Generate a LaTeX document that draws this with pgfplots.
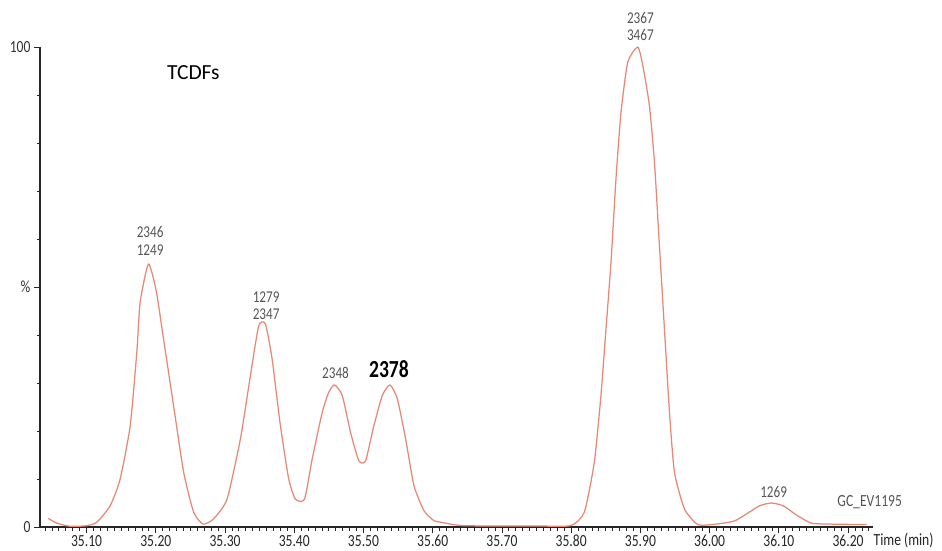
\documentclass[border=0pt]{standalone}
\usepackage{pgfplots}
\pgfplotsset{compat=1.18}
\usepackage{fontspec}
\setmainfont{Carlito}
\newfontfamily\cond[FakeStretch=0.8]{Carlito}
\definecolor{trace}{RGB}{232,136,116}
\definecolor{lab}{RGB}{85,85,85}
\begin{document}
\begin{tikzpicture}
\path[use as bounding box] (-40pt,-24pt) rectangle (902pt,527pt);
\begin{axis}[
  at={(0pt,0pt)}, anchor=south west,
  scale only axis, width=833pt, height=480pt,
  xmin=35.0327, xmax=36.236, ymin=0, ymax=100,
  axis x line*=bottom, axis y line*=left,
  axis line style={line width=1.6pt, black!85},
  clip=false,
  xtick={35.1,35.2,...,36.21},
  minor xtick={35.04,35.05,...,36.235},
  ytick={0,50,100}, yticklabels={0,\%,100},
  minor ytick={10,20,30,40,60,70,80,90},
  tick style={line width=0.8pt, black!85},
  tick align=outside,
  major tick length=6pt, minor tick length=3.5pt,
  /pgf/number format/assume math mode=true,
  xticklabel style={font=\cond\fontsize{17}{19}\selectfont, text=black!85, yshift=1.5pt,
    /pgf/number format/.cd, fixed, fixed zerofill, precision=2, 1000 sep={}},
  yticklabel style={font=\cond\fontsize{17}{19}\selectfont, text=black!80},
]
\addplot[color=trace, line width=1.25pt, line join=round, smooth, tension=0.35] coordinates {
(35.0447,1.8) (35.0569,0.8) (35.0761,0.15) (35.1003,0.27) (35.1148,1.0)
(35.1340,4.4) (35.1485,10.0) (35.1630,21.1) (35.1726,36.5) (35.1774,46.9)
(35.1894,54.8) (35.2006,49.2) (35.2111,39.2) (35.2256,25.3) (35.2401,11.5)
(35.2546,3.1) (35.2682,0.6) (35.2835,1.7) (35.3029,5.8) (35.3221,18.3)
(35.3366,31.5) (35.3486,41.9) (35.3583,42.3) (35.3680,35.0) (35.3800,21.1)
(35.3920,10.0) (35.4017,5.8) (35.4148,5.8) (35.4259,14.2) (35.4404,23.9)
(35.4499,28.1) (35.4582,29.6) (35.4693,27.4) (35.4813,19.7) (35.4933,13.8)
(35.5030,13.8) (35.5150,21.1) (35.5272,27.4) (35.5382,29.6) (35.5489,26.7)
(35.5609,18.3) (35.5729,8.6) (35.5874,3.4) (35.6019,1.3) (35.6116,1.0)
(35.6405,0.3) (35.6984,0.2) (35.7563,0.2) (35.7997,0.3) (35.8190,3.1)
(35.8334,13.5) (35.8430,27.4) (35.8503,41.3) (35.8575,55.1) (35.8647,72.5)
(35.8720,86.4) (35.8817,96.8) (35.8962,100) (35.9035,96.1) (35.9130,87.8)
(35.9203,76.0) (35.9275,58.6) (35.9347,41.3) (35.9420,23.9) (35.9492,11.4)
(35.9637,3.75) (35.9831,0.5) (36.0095,0.6) (36.0356,1.25) (36.0530,2.7)
(36.0718,4.4) (36.0892,5.0) (36.1066,4.4) (36.1254,2.5) (36.1471,0.8)
(36.1760,0.6) (36.2267,0.5)
};
\node[font=\fontsize{21.5}{24}\selectfont, text=black] at (axis cs:35.2542,94.6) {TCDFs};
\node[font=\cond\fontsize{16.5}{18}\selectfont, text=lab] at (axis cs:35.1918,61.5) {2346};
\node[font=\cond\fontsize{16.5}{18}\selectfont, text=lab] at (axis cs:35.1918,57.7) {1249};
\node[font=\cond\fontsize{16.5}{18}\selectfont, text=lab] at (axis cs:35.3594,47.9) {1279};
\node[font=\cond\fontsize{16.5}{18}\selectfont, text=lab] at (axis cs:35.3594,44.4) {2347};
\node[font=\cond\fontsize{16.5}{18}\selectfont, text=lab] at (axis cs:35.4596,32.2) {2348};
\node[font=\cond\bfseries\fontsize{24.5}{26}\selectfont, text=black] at (axis cs:35.5368,32.8) {2378};
\node[font=\cond\fontsize{16.5}{18}\selectfont, text=lab] at (axis cs:35.9000,106.0) {2367};
\node[font=\cond\fontsize{16.5}{18}\selectfont, text=lab] at (axis cs:35.9000,102.6) {3467};
\node[font=\cond\fontsize{16.5}{18}\selectfont, text=lab] at (axis cs:36.0925,7.2) {1269};
\node[font=\cond\fontsize{17}{19}\selectfont, text=lab, anchor=west, inner sep=0pt] at (axis cs:36.1843,5.2) {GC\_EV1195};
\node[font=\cond\fontsize{17}{19}\selectfont, text=black!85, anchor=west, inner sep=0pt] at (axis cs:36.2367,-2.9) {Time (min)};
\end{axis}
\end{tikzpicture}
\end{document}
